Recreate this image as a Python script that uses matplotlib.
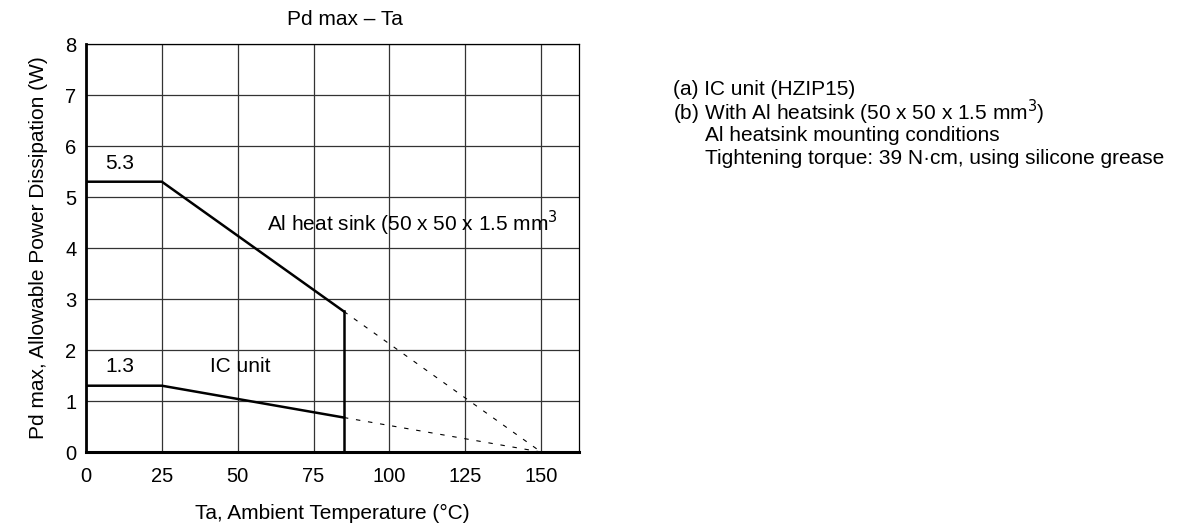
import numpy as np
import matplotlib.pyplot as plt

plt.rcParams['font.family'] = ['Liberation Sans', 'DejaVu Sans']

# derating curves (Ta in degC, Pd in W)
ta_solid = [0, 25, 85]
pd_heatsink = [5.3, 5.3, 2.756]
pd_ic = [1.3, 1.3, 0.676]
ta_dash = [85, 150]
pd_heatsink_dash = [2.756, 0]
pd_ic_dash = [0.676, 0]
ta_cut = 85

x_ticks = [0, 25, 50, 75, 100, 125, 150]
y_ticks = [0, 1, 2, 3, 4, 5, 6, 7, 8]

notes = [
    ("(a) IC unit (HZIP15)", 0),
    ("(b) With Al heatsink (50 x 50 x 1.5 mm$^3$)", 0),
    ("Al heatsink mounting conditions", 1),
    ("Tightening torque: 39 N\u00b7cm, using silicone grease", 1),
]

FS = 15


def main():
    fig = plt.figure(figsize=(11.8, 5.27), dpi=100)
    ax = fig.add_axes([0.0729, 0.1423, 0.4178, 0.7742])

    ax.set_xlim(0, 162.5)
    ax.set_ylim(0, 8)
    ax.set_xticks(x_ticks)
    ax.set_yticks(y_ticks)
    ax.grid(True, color='#333333', linewidth=0.9)
    ax.tick_params(length=0, labelsize=14.5)
    ax.tick_params(axis='x', pad=10.5)
    ax.tick_params(axis='y', pad=7)

    for side in ['top', 'right']:
        ax.spines[side].set_linewidth(0.9)
    ax.spines['left'].set_linewidth(2)
    ax.spines['bottom'].set_linewidth(2.2)

    ax.plot(ta_solid, pd_heatsink, color='black', linewidth=1.8)
    ax.plot(ta_solid, pd_ic, color='black', linewidth=1.8)
    ax.plot([ta_cut, ta_cut], [0, pd_heatsink[-1]], color='black', linewidth=1.8)
    ax.plot(ta_dash, pd_heatsink_dash, color='black', linewidth=0.8,
            dashes=(4, 7))
    ax.plot(ta_dash, pd_ic_dash, color='black', linewidth=0.8,
            dashes=(4, 7))

    ax.text(11, 5.65, "5.3", fontsize=FS, ha='center', va='center')
    ax.text(11, 1.68, "1.3", fontsize=FS, ha='center', va='center')
    ax.text(41, 1.68, "IC unit", fontsize=FS, ha='left', va='center')
    ax.text(59.5, 4.48, "Al heat sink (50 x 50 x 1.5 mm$^3$", fontsize=FS,
            ha='left', va='center')

    ax.set_title("Pd max \u2013 Ta", fontsize=FS, pad=14, x=0.526)
    ax.set_xlabel("Ta, Ambient Temperature (\u00b0C)", fontsize=FS, labelpad=13)
    ax.set_ylabel("Pd max, Allowable Power Dissipation (W)", fontsize=FS,
                  labelpad=12)

    y0 = 1 - 89 / 527
    for i, (txt, indent) in enumerate(notes):
        fig.text((673 + indent * 32) / 1180, y0 - i * 23.3 / 527, txt,
                 fontsize=FS, ha='left', va='center')

    fig.savefig('out.png', dpi=100)


if __name__ == "__main__":
    main()
